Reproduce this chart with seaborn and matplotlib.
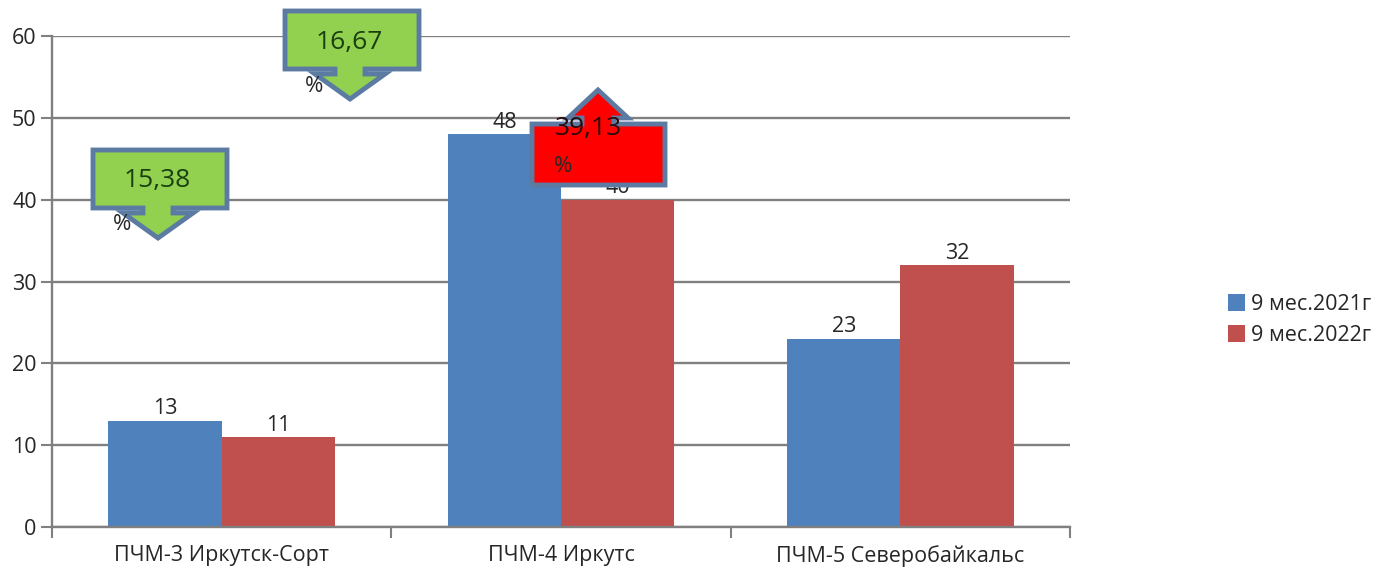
import matplotlib
matplotlib.use("Agg")
import matplotlib.pyplot as plt
import matplotlib.transforms as mtransforms
from matplotlib.patches import Polygon, Patch
import seaborn as sns
import pandas as pd

# Data
categories = ["ПЧМ-3 Иркутск-Сорт", "ПЧМ-4 Иркутс", "ПЧМ-5 Северобайкальс"]
periods = ["9 мес.2021г", "9 мес.2022г"]
values_2021 = [13, 48, 23]
values_2022 = [11, 40, 32]
colors = ["#4F81BD", "#C0504D"]

df = pd.DataFrame({
    "unit": categories * 2,
    "period": [periods[0]] * 3 + [periods[1]] * 3,
    "count": values_2021 + values_2022,
})

sns.set_theme(style="white")
plt.rcParams["font.family"] = ["Open Sans", "DejaVu Sans"]
TXT = "#262626"
GRID = "#808080"
FS = 15.5

W, H = 1385, 568
fig = plt.figure(figsize=(W / 100, H / 100), dpi=100)
fig.patch.set_facecolor("white")
ax = fig.add_axes([52 / W, 1 - 527 / H, (1070 - 52) / W, (527 - 36) / H])

sns.barplot(data=df, x="unit", y="count", hue="period", palette=colors,
            width=0.667, saturation=1, legend=False, ax=ax, edgecolor="none")

ax.set_ylim(0, 60)
ax.set_xlim(-0.5, 2.5)
ax.set_yticks(range(0, 61, 10))
ax.yaxis.grid(True, color=GRID, linewidth=1.7)
ax.set_axisbelow(True)
ax.set_xlabel("")
ax.set_ylabel("")
for s in ["top", "right"]:
    ax.spines[s].set_visible(False)
for s in ["left", "bottom"]:
    ax.spines[s].set_color(GRID)
    ax.spines[s].set_linewidth(1.7)

# category separators as major ticks, names as minor ticks
ax.set_xticks([-0.5, 0.5, 1.5, 2.5])
ax.set_xticklabels([])
ax.set_xticks([0, 1, 2], minor=True)
ax.set_xticklabels(categories, minor=True, fontsize=FS, color=TXT)
ax.tick_params(axis="x", which="major", direction="out", length=8, width=1.5,
               color=GRID, bottom=True)
ax.tick_params(axis="x", which="minor", length=0, pad=13)
ax.tick_params(axis="y", direction="out", length=8, width=1.5, color=GRID,
               left=True, labelsize=FS, labelcolor=TXT, pad=3)

for cont in ax.containers:
    ax.bar_label(cont, fontsize=FS, color=TXT, padding=1)

# legend
handles = [Patch(facecolor=c, edgecolor="none") for c in colors]
fig.legend(handles, periods, loc="center left", bbox_to_anchor=(1228 / W, 1 - 320 / H),
           frameon=False, fontsize=FS, handlelength=0.8, handleheight=0.8,
           handletextpad=0.25, labelspacing=0.45, labelcolor=TXT,
           borderpad=0, borderaxespad=0)

# change callouts (pixel layout, y measured from the top)
px = mtransforms.Affine2D().scale(1 / W, -1 / H).translate(0, 1) + fig.transFigure


def pct(a, b):
    return f"{abs(b - a) / a * 100:.2f}".replace(".", ",")


def down_callout(x0, y0, text, fill, tcolor):
    w, h = 134, 58
    cx = x0 + 65
    pts = [(x0, y0), (x0 + w, y0), (x0 + w, y0 + h), (cx + 15, y0 + h),
           (cx + 15, y0 + h + 5), (cx + 35, y0 + h + 5), (cx, y0 + h + 30),
           (cx - 35, y0 + h + 5), (cx - 15, y0 + h + 5), (cx - 15, y0 + h),
           (x0, y0 + h)]
    fig.add_artist(Polygon(pts, closed=True, transform=px, facecolor=fill,
                           edgecolor="#5B7BA3", linewidth=3.5, zorder=5,
                           joinstyle="miter"))
    fig.text(x0 + w / 2 - 3, y0 + 31, text, transform=px, ha="center", va="center",
             fontsize=19, color=tcolor, zorder=6)
    fig.text(x0 + 20, y0 + 75, "%", transform=px, ha="left", va="center",
             fontsize=16, color=TXT, zorder=6)


def up_callout(x0, y0, text, fill, tcolor):
    w, h = 133, 61
    cx = x0 + 66
    pts = [(x0, y0), (cx - 16, y0), (cx - 16, y0 - 6), (cx - 30, y0 - 6),
           (cx, y0 - 34), (cx + 30, y0 - 6), (cx + 16, y0 - 6), (cx + 16, y0),
           (x0 + w, y0), (x0 + w, y0 + h), (x0, y0 + h)]
    fig.add_artist(Polygon(pts, closed=True, transform=px, facecolor=fill,
                           edgecolor="#5B7BA3", linewidth=3.5, zorder=5,
                           joinstyle="miter"))
    fig.text(x0 + 56, y0 + 5, text, transform=px, ha="center", va="center",
             fontsize=19, color=tcolor, zorder=6)
    fig.text(x0 + 22, y0 + 42, "%", transform=px, ha="left", va="center",
             fontsize=16, color=TXT, zorder=6)


down_callout(93, 150, pct(values_2021[0], values_2022[0]), "#92D050", "#1A3F10")
down_callout(285, 11, pct(values_2021[1], values_2022[1]), "#92D050", "#1A3F10")
up_callout(532, 124, pct(values_2021[2], values_2022[2]), "#FF0000", "#2a0a0a")

fig.savefig("out.png", dpi=100, facecolor="white")
